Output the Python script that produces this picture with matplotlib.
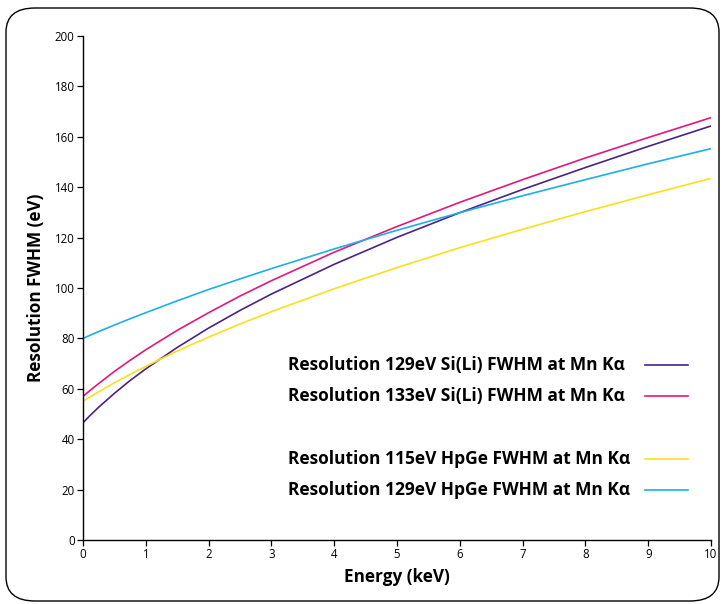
import matplotlib.pyplot as plt
from matplotlib.patches import FancyBboxPatch

plt.rcParams['font.family'] = ['Open Sans', 'DejaVu Sans']

# Energy points (keV) and resolution curves (eV)
energie = [0, 0.1, 0.25, 0.5, 0.75, 1, 1.5, 2, 2.5, 3, 4, 5, 6, 7, 8, 9, 10]
sili_129 = [46.5, 49.1, 52.7, 58.2, 63.3, 67.9, 76.4, 84.1, 91.1, 97.6, 109.4, 120.1, 129.9, 139.1, 147.8, 156.2, 164.3]
sili_133 = [57.0, 59.1, 62.1, 66.9, 71.3, 75.5, 83.2, 90.2, 96.8, 102.9, 114.2, 124.4, 134.0, 143.0, 151.6, 159.7, 167.6]
hpge_115 = [55.0, 56.6, 58.8, 62.4, 65.7, 68.9, 75.0, 80.5, 85.7, 90.6, 99.7, 108.1, 116.0, 123.3, 130.3, 137.0, 143.5]
hpge_129 = [80.0, 81.1, 82.7, 85.3, 87.8, 90.2, 94.9, 99.4, 103.6, 107.7, 115.5, 122.9, 129.9, 136.6, 143.0, 149.3, 155.3]

labels = ["Resolution 129eV Si(Li) FWHM at Mn Kα",
          "Resolution 133eV Si(Li) FWHM at Mn Kα",
          "Resolution 115eV HpGe FWHM at Mn Kα",
          "Resolution 129eV HpGe FWHM at Mn Kα"]
couleurs = ["#4b2386", "#e5177b", "#f7e11b", "#1eaee8"]

fig = plt.figure(figsize=(7.26, 6.04), dpi=100)

# cadre arrondi autour de la figure
cadre = FancyBboxPatch((6/726, 3/604), 713/726, 593/604,
                       boxstyle="round,pad=0,rounding_size=0.04",
                       transform=fig.transFigure, fill=False,
                       edgecolor="black", linewidth=1.0)
fig.patches.append(cadre)

ax = fig.add_axes([83/726, 64/604, 628/726, 504/604])

for serie, c in zip([sili_129, sili_133, hpge_115, hpge_129], couleurs):
    ax.plot(energie, serie, color=c, linewidth=1.2)

ax.set_xlim(0, 10)
ax.set_ylim(0, 200)
ax.set_xticks(range(0, 11))
ax.set_yticks(range(0, 201, 20))
ax.tick_params(direction="out", length=4, width=0.9, labelsize=8.3, pad=2)
for cote in ["top", "right"]:
    ax.spines[cote].set_visible(False)
for cote in ["left", "bottom"]:
    ax.spines[cote].set_linewidth(1.0)

ax.set_xlabel("Energy (keV)", fontsize=12.3, fontweight="bold", labelpad=5)
ax.set_ylabel("Resolution FWHM (eV)", fontsize=12.3, fontweight="bold", labelpad=7)

# legende faite a la main : texte aligne a gauche, traits alignes a droite
y_leg = [0.347, 0.286, 0.161, 0.099]
for lab, c, y in zip(labels, couleurs, y_leg):
    ax.text(0.326, y, lab, transform=ax.transAxes, fontsize=12.5,
            fontweight="bold", ha="left", va="center")
    ax.plot([0.895, 0.963], [y, y], transform=ax.transAxes, color=c,
            linewidth=1.2)

plt.savefig("out.png", dpi=100)
